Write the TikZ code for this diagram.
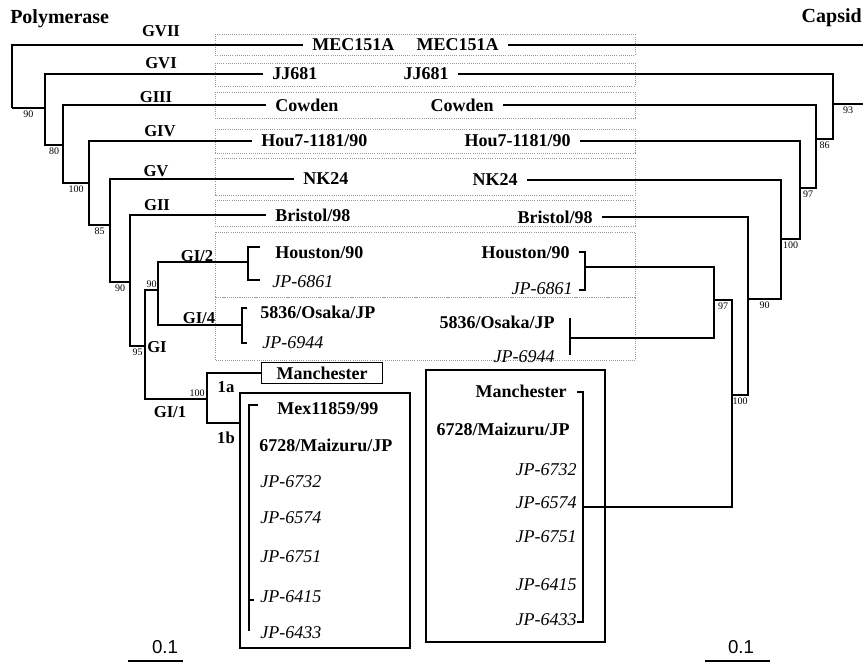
\documentclass[tikz,border=0pt]{standalone}
\usepackage{fontspec}
\setmainfont{Liberation Serif}
\setsansfont{Liberation Sans}
\usepackage{tikz}

\begin{document}
\begin{tikzpicture}[x=0.75pt, y=-0.75pt,
    branch/.style={line width=1.3pt},
    tick/.style={line width=1pt},
    strain/.style={font=\fontsize{13.5}{16}\selectfont\bfseries, inner sep=0pt, outer xsep=7pt},
    isolate/.style={strain, font=\fontsize{13.5}{16}\selectfont\itshape},
    clade/.style={font=\fontsize{12.5}{14}\selectfont\bfseries, inner sep=0pt},
    boot/.style={font=\fontsize{7.5}{9}\selectfont, inner sep=1.5pt},
    group/.style={draw=gray!80, densely dotted, line width=0.6pt},
    title/.style={font=\fontsize{15}{18}\selectfont\bfseries, inner sep=0pt},
    barlab/.style={font=\sffamily\fontsize{14}{16}\selectfont, inner sep=0pt}]
  \useasboundingbox (0,0) rectangle (863,663);
  % Titles.
  \node[title, anchor=west] (tPol) at (10,19) {Polymerase};
  \node[title, anchor=east] (tCap) at (862,18) {Capsid};
  % Dotted boxes round the genogroups.
  \draw[group] (215,34) rectangle (635,55) (215,63) rectangle (635,86)
    (215,92) rectangle (635,118) (215,129) rectangle (635,153)
    (215,158) rectangle (635,195) (215,200) rectangle (635,226)
    (215,232) rectangle (635,297) (215,297) rectangle (635,360);
  % Solid boxes round the GI/1 strains.
  \draw[line width=1pt] (240,393) rectangle (410,648);
  \draw[line width=1pt] (426,370) rectangle (605,642);

  % Polymerase side: strain names.
  \node[strain, anchor=west] (aMEC) at (303,45) {MEC151A};
  \node[strain, anchor=west] (aJJ) at (263,74) {JJ681};
  \node[strain, anchor=west] (aCow) at (266,105) {Cowden};
  \node[strain, anchor=west] (aHou) at (252,141) {Hou7-1181/90};
  \node[strain, anchor=west] (aNK) at (294,179) {NK24};
  \node[strain, anchor=west] (aBri) at (266,215) {Bristol/98};
  \node[strain, anchor=west] (aHst) at (266,253) {Houston/90};
  \node[isolate, anchor=west] (a6861) at (263,282) {JP-6861};
  \node[strain, anchor=west] (aOsk) at (251,312) {5836/Osaka/JP};
  \node[isolate, anchor=west] (a6944) at (253,343) {JP-6944};
  \node[strain, draw, line width=1pt, outer sep=0pt, minimum width=91pt,
    minimum height=16pt] (aMan) at (322,373) {Manchester};
  \node[strain, anchor=west] (aMex) at (268,409) {Mex11859/99};
  \node[strain, anchor=west] (aMai) at (250,445) {6728/Maizuru/JP};
  \node[isolate, anchor=west] (a6732) at (251,482) {JP-6732};
  \node[isolate, anchor=west] (a6574) at (251,518) {JP-6574};
  \node[isolate, anchor=west] (a6751) at (251,557) {JP-6751};
  \node[isolate, anchor=west] (a6415) at (251,597) {JP-6415};
  \node[isolate, anchor=west] (a6433) at (251,633) {JP-6433};

  % Polymerase side: clade names.
  \node[clade] (gVII) at (161,31) {GVII};
  \node[clade] (gVI) at (161,63) {GVI};
  \node[clade] (gIII) at (156,97) {GIII};
  \node[clade] (gIV) at (160,131) {GIV};
  \node[clade] (gV) at (156,171) {GV};
  \node[clade] (gII) at (157,205) {GII};
  \node[clade] (gI2) at (197,256) {GI/2};
  \node[clade] (gI4) at (199,318) {GI/4};
  \node[clade] (gI) at (157,347) {GI};
  \node[clade] (gI1) at (170,412) {GI/1};
  \node[clade] (g1a) at (226,387) {1a};
  \node[clade] (g1b) at (226,438) {1b};

  % Polymerase tree.
  \coordinate (L1) at (12,108);
  \coordinate (L2) at (45,108);
  \coordinate (L3) at (63,145);
  \coordinate (L4) at (89,183);
  \coordinate (L5) at (110,225);
  \coordinate (L6) at (130,282);
  \coordinate (L7) at (145,346);
  \coordinate (L8) at (158,290);
  \coordinate (L9) at (207,399);
  \coordinate (hTL) at (260,247);
  \coordinate (hML) at (248,262);
  \coordinate (hBL) at (260,280);
  \coordinate (oTL) at (247,308);
  \coordinate (oML) at (242,325);
  \coordinate (oBL) at (247,343);
  \coordinate (c1b) at (240,423);
  \coordinate (mTL) at (258,405);
  \coordinate (mBL) at (249,631);
  \draw[branch] (L1) |- (aMEC.west) (L1) -- node[boot, below]{90} (L2);
  \draw[branch] (L2) |- (aJJ.west) (L2) |- node[boot, below, pos=.75]{80} (L3);
  \draw[branch] (L3) |- (aCow.west) (L3) |- node[boot, below, pos=.75]{100} (L4);
  \draw[branch] (L4) |- (aHou.west) (L4) |- node[boot, below, pos=.75]{85} (L5);
  \draw[branch] (L5) |- (aNK.west) (L5) |- node[boot, below, pos=.75]{90} (L6);
  \draw[branch] (L6) |- (aBri.west) (L6) |- node[boot, below, pos=.75]{95} (L7);
  \draw[branch] (L7) |- node[boot, above, pos=.75]{90} (L8)
    (L7) |- node[boot, above, pos=.92]{100} (L9);
  \draw[branch] (L8) |- (hML) (L8) |- (oML);
  \draw[branch] (L9) |- (aMan.west) (L9) |- (c1b);
  \draw[tick] (hTL) -| (hML) |- (hBL);
  \draw[tick] (oTL) -| (oML) |- (oBL);
  \draw[tick] (mTL) -| (mBL);
  \draw[tick] (249,600) -- (254,600);

  % Capsid side: strain names.
  \node[strain, anchor=east] (bMEC) at (508,45) {MEC151A};
  \node[strain, anchor=east] (bJJ) at (458,74) {JJ681};
  \node[strain, anchor=east] (bCow) at (503,105) {Cowden};
  \node[strain, anchor=east] (bHou) at (580,141) {Hou7-1181/90};
  \node[strain, anchor=east] (bNK) at (527,180) {NK24};
  \node[strain, anchor=east] (bBri) at (602,217) {Bristol/98};
  \node[strain, anchor=east] (bHst) at (579,253) {Houston/90};
  \node[isolate, anchor=east] (b6861) at (582,289) {JP-6861};
  \node[strain, anchor=east] (bOsk) at (564,322) {5836/Osaka/JP};
  \node[isolate, anchor=east] (b6944) at (564,357) {JP-6944};
  \node[strain, anchor=east] (bMan) at (576,391) {Manchester};
  \node[strain, anchor=east] (bMai) at (579,429) {6728/Maizuru/JP};
  \node[isolate, anchor=east] (b6732) at (586,470) {JP-6732};
  \node[isolate, anchor=east] (b6574) at (586,503) {JP-6574};
  \node[isolate, anchor=east] (b6751) at (586,537) {JP-6751};
  \node[isolate, anchor=east] (b6415) at (586,585) {JP-6415};
  \node[isolate, anchor=east] (b6433) at (586,620) {JP-6433};

  % Capsid tree.
  \coordinate (rTop) at (863,45);
  \coordinate (rOut) at (863,104);
  \coordinate (R1) at (833,104);
  \coordinate (R2) at (816,139);
  \coordinate (R3) at (800,188);
  \coordinate (R4) at (781,239);
  \coordinate (R5) at (748,299);
  \coordinate (R6) at (732,395);
  \coordinate (R7) at (714,300);
  \coordinate (hTR) at (579,252);
  \coordinate (hMR) at (585,267);
  \coordinate (hBR) at (579,290);
  \coordinate (oTR) at (570,318);
  \coordinate (oMR) at (570,338);
  \coordinate (oBR) at (570,355);
  \coordinate (mTR) at (577,392);
  \coordinate (mMR) at (583,507);
  \coordinate (mBR) at (577,622);
  \draw[branch] (bMEC.east) -- (rTop);
  \draw[branch] (R1) |- (bJJ.east) (R1) |- node[boot, below, pos=.75]{86} (R2)
    (R1) -- node[boot, below]{93} (rOut);
  \draw[branch] (R2) |- (bCow.east) (R2) |- node[boot, below, pos=.75]{97} (R3);
  \draw[branch] (R3) |- (bHou.east) (R3) |- node[boot, below, pos=.75]{100} (R4);
  \draw[branch] (R4) |- (bNK.east) (R4) |- node[boot, below, pos=.75]{90} (R5);
  \draw[branch] (R5) |- (bBri.east) (R5) |- node[boot, below, pos=.75]{100} (R6);
  \draw[branch] (R6) |- node[boot, below, pos=.75]{97} (R7) (R6) |- (mMR);
  \draw[branch] (R7) |- (hMR) (R7) |- (oMR);
  \draw[tick] (hTR) -| (hMR) |- (hBR);
  \draw[tick] (oTR) -- (oBR);
  \draw[tick] (mTR) -| (mMR) |- (mBR);

  % Scale bars.
  \draw[line width=0.8pt] (128,661) -- (183,661);
  \node[barlab] (sL) at (165,647) {0.1};
  \draw[line width=0.8pt] (705,661) -- (770,661);
  \node[barlab] (sR) at (741,647) {0.1};
\end{tikzpicture}
\end{document}
